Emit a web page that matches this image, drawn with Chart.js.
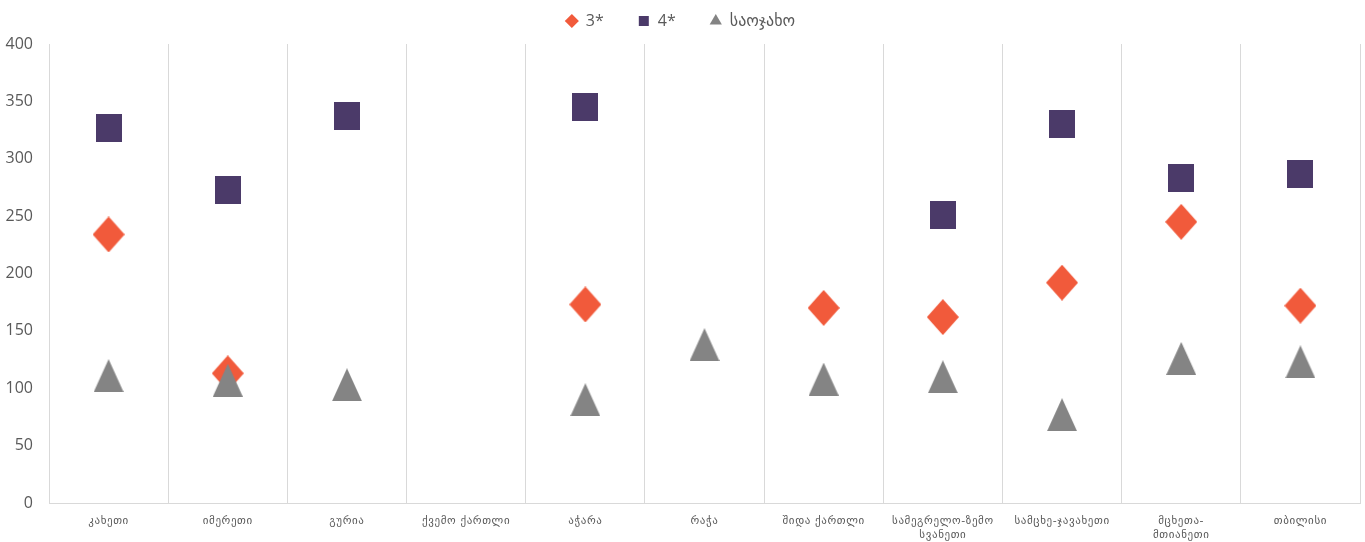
<!DOCTYPE html>
<html>
<head>
<meta charset="utf-8">
<script src="https://cdn.jsdelivr.net/npm/chart.js@4"></script>
<style>
  html, body { margin: 0; padding: 0; background: #ffffff; }
  #wrap { width: 1365px; height: 542px; }
</style>
</head>
<body>
<div id="wrap"><canvas id="c" width="1365" height="542"></canvas></div>
<script>
const categories = [
  'კახეთი', 'იმერეთი', 'გურია', 'ქვემო ქართლი', 'აჭარა', 'რაჭა',
  'შიდა ქართლი', ['სამეგრელო-ზემო', 'სვანეთი'], 'სამცხე-ჯავახეთი',
  ['მცხეთა-', 'მთიანეთი'], 'თბილისი'
];
const seriesNames = ['3*', '4*', 'საოჯახო'];
const threeStar = [234, 113, null, null, 173, null, 170, 162, 192, 245, 172];
const fourStar  = [327, 273, 337, null, 345, null, null, 251, 330, 283, 287];
const family    = [111, 107, 103, null, 90, 138, 108, 110, 77, 126, 123];
const yTicks = [0, 50, 100, 150, 200, 250, 300, 350, 400];

const COL_RED = '#F15A3B';
const COL_PURPLE = '#4B3A69';
const COL_GRAY = '#848484';
const TEXT = '#595959';

function marker(kind, w, h, color) {
  const cv = document.createElement('canvas');
  cv.width = w; cv.height = h;
  const g = cv.getContext('2d');
  g.fillStyle = color;
  g.beginPath();
  if (kind === 'diamond') {
    g.moveTo(w / 2, 0); g.lineTo(w, h / 2); g.lineTo(w / 2, h); g.lineTo(0, h / 2);
  } else if (kind === 'square') {
    g.rect(0, 0, w, h);
  } else {
    g.moveTo(w / 2, 0); g.lineTo(w, h); g.lineTo(0, h);
  }
  g.closePath();
  g.fill();
  return cv;
}
const mDiamond = marker('diamond', 32, 36, COL_RED);
const mSquare = marker('square', 26, 28, COL_PURPLE);
const mTri = marker('tri', 30, 33, COL_GRAY);
const legendStyles = ['rectRot', 'rect', 'triangle'];

const legendTweak = {
  id: 'legendTweak',
  beforeLayout(chart) {
    const lg = chart.legend;
    if (!lg || lg._tw) return;
    lg._tw = true;
    const fit = lg.fit;
    lg.fit = function () { fit.call(this); this.height = 40; };
    const draw = lg.draw;
    lg.draw = function () { const t = this.top; this.top = t - 25; draw.call(this); this.top = t; };
  },
  afterLayout(chart) {
    const sx = chart.scales.x;
    if (sx && !sx._tw) {
      sx._tw = true;
      const dl = sx.drawLabels;
      sx.drawLabels = function (area) {
        const c = this.ctx; c.save(); c.letterSpacing = '0.6px'; dl.call(this, area); c.restore();
      };
    }
  }
};

new Chart(document.getElementById('c'), {
  type: 'line',
  data: {
    labels: categories,
    datasets: [
      { label: seriesNames[0], data: threeStar, showLine: false, pointStyle: mDiamond,
        backgroundColor: COL_RED, borderColor: COL_RED, order: 2 },
      { label: seriesNames[1], data: fourStar, showLine: false, pointStyle: mSquare,
        backgroundColor: COL_PURPLE, borderColor: COL_PURPLE, order: 3 },
      { label: seriesNames[2], data: family, showLine: false, pointStyle: mTri,
        backgroundColor: COL_GRAY, borderColor: COL_GRAY, order: 1 }
    ]
  },
  options: {
    responsive: false,
    animation: false,
    devicePixelRatio: 1,
    layout: { padding: { left: 0, right: 4, top: 4, bottom: 0 } },
    plugins: {
      tooltip: { enabled: false },
      legend: {
        position: 'top',
        labels: {
          usePointStyle: true,
          boxWidth: 12,
          boxHeight: 10,
          padding: 34,
          color: TEXT,
          font: { family: "'Open Sans', 'DejaVu Sans', sans-serif", size: 16 },
          sort: (a, b) => a.datasetIndex - b.datasetIndex,
          generateLabels(chart) {
            const items = Chart.defaults.plugins.legend.labels.generateLabels(chart);
            const cols = [COL_RED, COL_PURPLE, COL_GRAY];
            items.forEach(it => {
              it.pointStyle = legendStyles[it.datasetIndex];
              it.fillStyle = cols[it.datasetIndex];
              it.strokeStyle = cols[it.datasetIndex];
              it.lineWidth = 0;
            });
            return items;
          }
        }
      }
    },
    scales: {
      x: {
        offset: true,
        afterFit(scale) { scale.height = 39; },
        grid: { display: true, offset: true, color: '#D9D9D9', lineWidth: 1, drawTicks: false },
        border: { display: true, color: '#D9D9D9', width: 1 },
        ticks: {
          autoSkip: false, maxRotation: 0, minRotation: 0, padding: 11,
          color: TEXT,
          font: { family: "'DejaVu Sans', sans-serif", size: 11, lineHeight: 1.3 }
        }
      },
      y: {
        min: 0, max: 400,
        afterBuildTicks(scale) { scale.ticks = yTicks.map(v => ({ value: v })); },
        afterFit(scale) { scale.width = 49; },
        grid: { display: false },
        border: { display: false },
        ticks: {
          padding: 8,
          color: TEXT,
          font: { family: "'Open Sans', 'DejaVu Sans', sans-serif", size: 16 }
        }
      }
    }
  },
  plugins: [legendTweak]
});
</script>
</body>
</html>
